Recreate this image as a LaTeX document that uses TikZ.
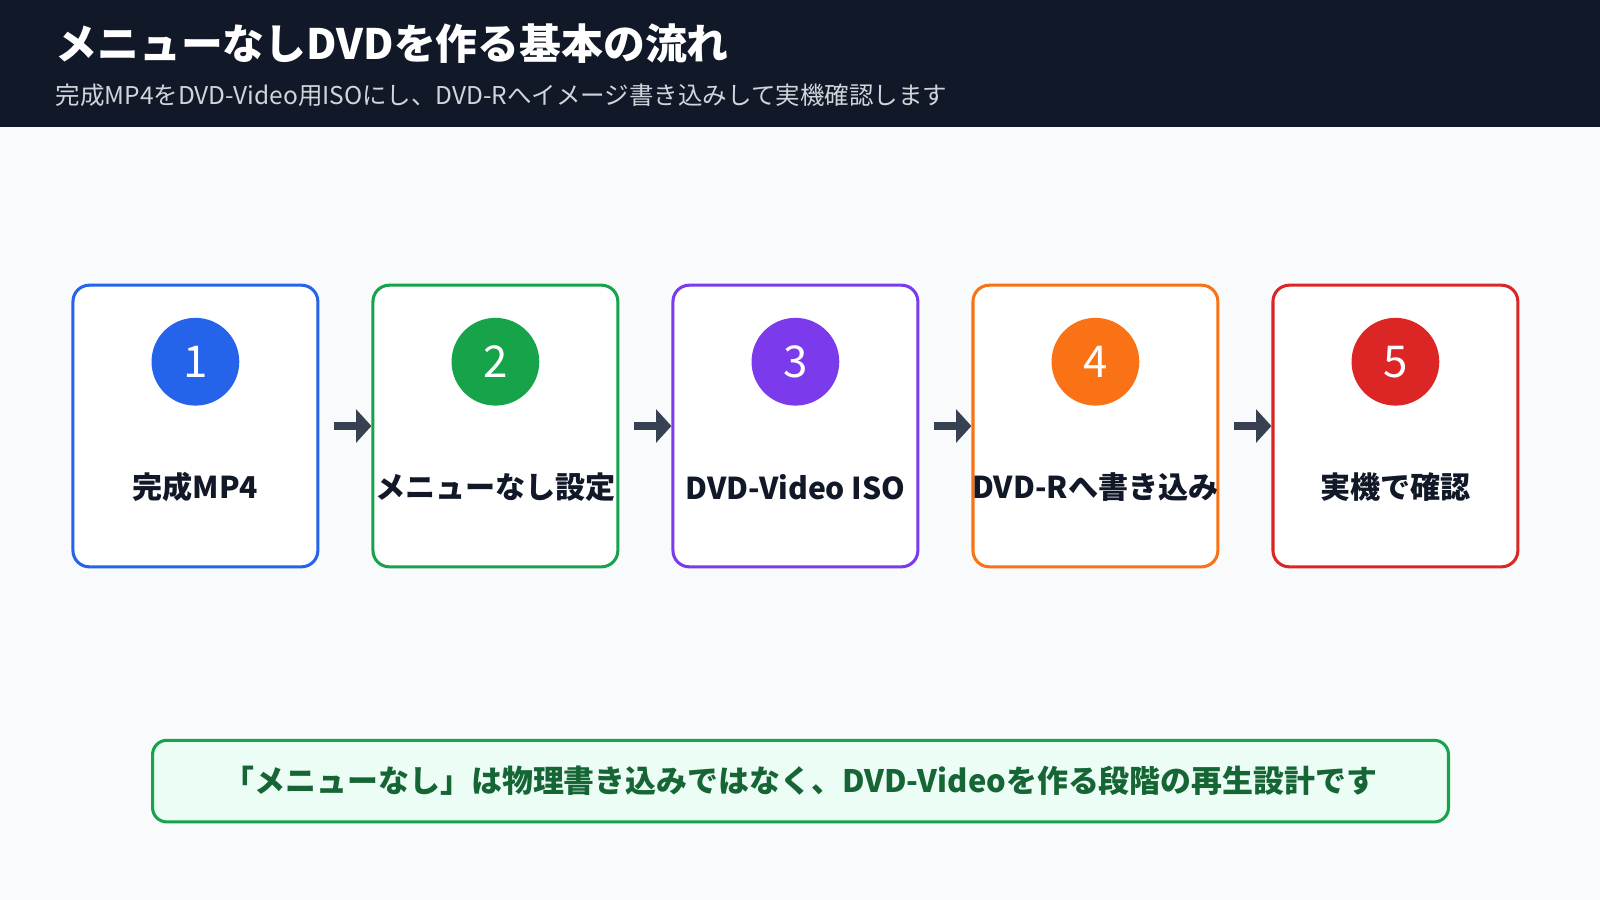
\documentclass[tikz,border=0pt]{standalone}
\usepackage{fontspec}
\setmainfont{Noto Sans CJK JP}
\usepackage{xcolor}
\usepackage{tikz}
\usetikzlibrary{shapes.geometric, arrows.meta}
\definecolor{ink}{HTML}{111827}
\definecolor{subgray}{HTML}{D1D5DB}
\definecolor{paper}{HTML}{F8FAFC}
\definecolor{arrowgray}{HTML}{374151}
\definecolor{cblue}{HTML}{2563EB}
\definecolor{cgreen}{HTML}{16A34A}
\definecolor{cpurple}{HTML}{7C3AED}
\definecolor{corange}{HTML}{F97316}
\definecolor{cred}{HTML}{DC2626}
\definecolor{notefill}{HTML}{ECFDF5}
\definecolor{notetext}{HTML}{166534}
\tikzstyle{stepbox} = [rectangle, rounded corners=16pt, minimum width=240pt, minimum height=276pt, line width=3pt, fill=white]
\tikzstyle{numdot} = [circle, minimum size=86pt, inner sep=0pt, text=white, font=\fontsize{43}{43}\selectfont]
\tikzstyle{steplabel} = [text=ink, font=\bfseries\fontsize{29.5}{34}\selectfont]
\tikzstyle{arrow} = [line width=7pt, draw=arrowgray, -{Triangle[length=15pt,width=32pt]}, shorten <=14pt]
\tikzstyle{note} = [rectangle, rounded corners=14pt, minimum width=1270pt, minimum height=80pt, line width=3pt, draw=cgreen, fill=notefill, text=notetext, font=\bfseries\fontsize{30.3}{34}\selectfont]

\begin{document}
\begin{tikzpicture}[x=1pt, y=-1pt, node distance=294pt]
    \useasboundingbox (0,0) rectangle (1568,882);
    \fill [paper] (0,0) rectangle (1568,882);
    \fill [ink] (0,0) rectangle (1568,124);
    \node (title) [anchor=west, text=white, font=\bfseries\fontsize{41}{46}\selectfont] at (51,43) {メニューなしDVDを作る基本の流れ};
    \node (subtitle) [anchor=west, text=subgray, font=\fontsize{24}{28}\selectfont] at (51,93) {完成MP4をDVD-Video用ISOにし、DVD-Rへイメージ書き込みして実機確認します};
    % steps
    \node (p1) [stepbox, draw=cblue] at (191.5,417.5) {};
    \node (p2) [stepbox, draw=cgreen, right of=p1] {};
    \node (p3) [stepbox, draw=cpurple, right of=p2] {};
    \node (p4) [stepbox, draw=corange, right of=p3] {};
    \node (p5) [stepbox, draw=cred, right of=p4] {};
    \node (n1) [numdot, fill=cblue, above of=p1, node distance=63pt] {1};
    \node (n2) [numdot, fill=cgreen, above of=p2, node distance=63pt] {2};
    \node (n3) [numdot, fill=cpurple, above of=p3, node distance=63pt] {3};
    \node (n4) [numdot, fill=corange, above of=p4, node distance=63pt] {4};
    \node (n5) [numdot, fill=cred, above of=p5, node distance=63pt] {5};
    \node (l1) [steplabel, below of=p1, node distance=60pt] {完成MP4};
    \node (l2) [steplabel, below of=p2, node distance=60pt] {メニューなし設定};
    \node (l3) [steplabel, below of=p3, node distance=60pt] {DVD-Video ISO};
    \node (l4) [steplabel, below of=p4, node distance=60pt] {DVD-Rへ書き込み};
    \node (l5) [steplabel, below of=p5, node distance=60pt] {実機で確認};
    \draw [arrow] (p1) -- (p2);
    \draw [arrow] (p2) -- (p3);
    \draw [arrow] (p3) -- (p4);
    \draw [arrow] (p4) -- (p5);
    % note
    \node (tip) [note] at (784.5,765.5) {「メニューなし」は物理書き込みではなく、DVD-Videoを作る段階の再生設計です};
\end{tikzpicture}
\end{document}
